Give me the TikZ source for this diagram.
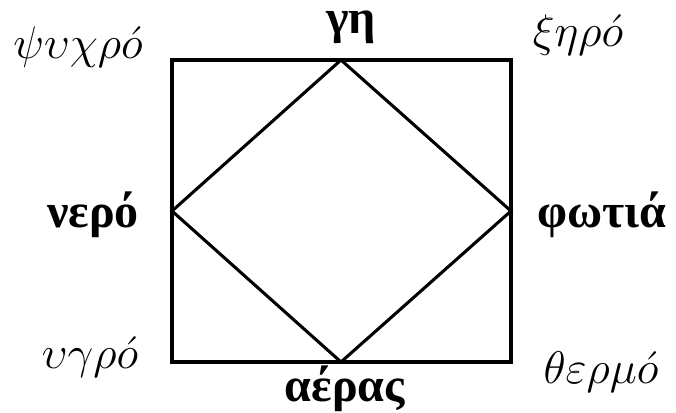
\documentclass[tikz,border=0pt]{standalone}
\usepackage{fontspec}
\newfontfamily\grb{Liberation Serif Bold}
\newcommand{\qtext}[1]{\scalebox{1.38}{$#1$}}
\tikzset{
  edge/.style={line width=2.3pt, line join=miter},
  elem/.style={inner sep=0pt, anchor=base, font=\grb\fontsize{36}{40}\selectfont},
  qual/.style={inner sep=0pt, anchor=base, font=\fontsize{24.88}{30}\selectfont},
}
\begin{document}
\begin{tikzpicture}[x=0.75pt,y=-0.75pt]
\useasboundingbox (0,0) rectangle (676,412);
\coordinate (tl) at (172,60);
\coordinate (tr) at (511,60);
\coordinate (br) at (511,362);
\coordinate (bl) at (172,362);
\coordinate (t) at (341,60);
\coordinate (r) at (511,211);
\coordinate (b) at (341,362);
\coordinate (l) at (172,211);
\draw[edge] (tl) -- (tr) -- (br) -- (bl) -- cycle;
\draw[edge] (t) -- (r) -- (b) -- (l) -- cycle;
\node[elem] (gi) at (351,33) {γη};
\node[elem] (nero) at (93,227) {νερό};
\node[elem] (fotia) at (602,227) {φωτιά};
\node[elem] (aeras) at (345,401) {αέρας};
\node[qual] (psychro) at (78,58) {\qtext{\psi\upsilon\chi\rho\acute{o}}};
\node[qual] (xiro) at (578,46) {\qtext{\xi\eta\rho\acute{o}}};
\node[qual] (ygro) at (90,368) {\qtext{\upsilon\gamma\rho\acute{o}}};
\node[qual] (thermo) at (601,383) {\qtext{\theta\varepsilon\rho\mu\acute{o}}};
\end{tikzpicture}
\end{document}
